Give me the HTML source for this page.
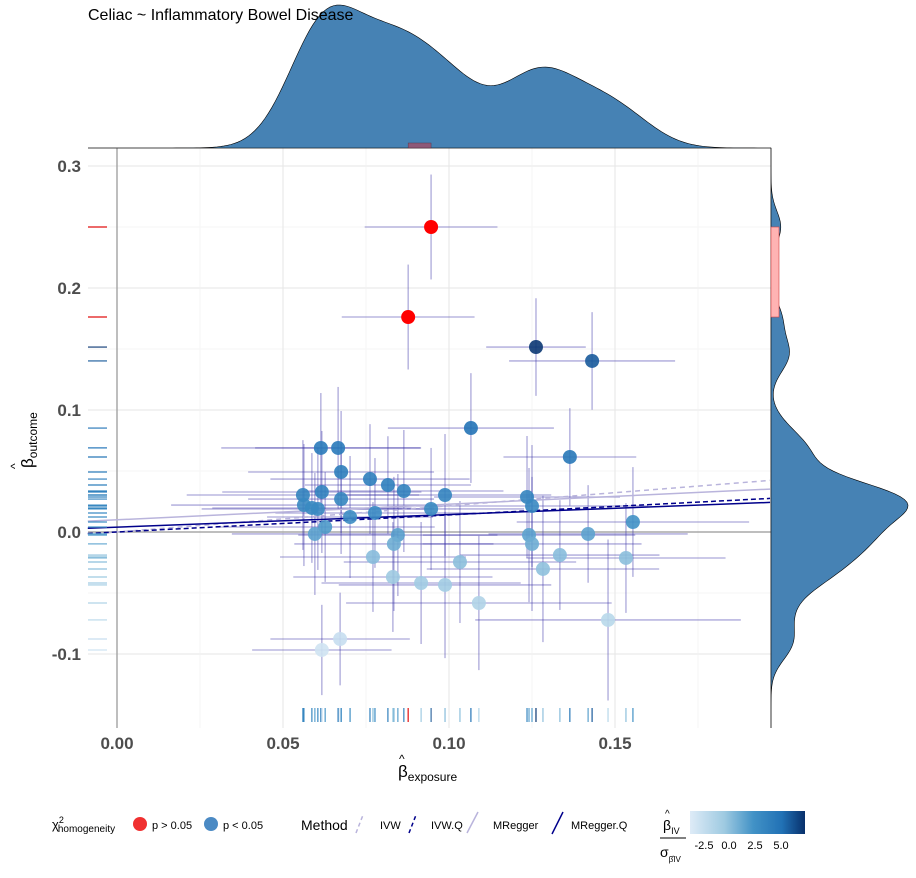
<!DOCTYPE html>
<html><head><meta charset="utf-8"><style>
body{margin:0;background:#fff;font-family:"Liberation Sans",sans-serif}
svg text{font-family:"Liberation Sans",sans-serif}
</style></head><body>
<svg id="c" width="916" height="873" xmlns="http://www.w3.org/2000/svg">
<g id="grid"></g><g id="dens"></g><g id="bars"></g><g id="lines"></g><g id="pts"></g><g id="rug"></g><g id="axes"></g>
<text x="88" y="20" font-size="16" fill="#000">Celiac ~ Inflammatory Bowel Disease</text>
<g id="legend">
 <text x="52" y="829" font-size="13">χ<tspan dy="-6" font-size="9">2</tspan><tspan dy="9" dx="-6" font-size="10">homogeneity</tspan></text>
 <circle cx="140" cy="824" r="7" fill="#f03030"/>
 <text x="152" y="829" font-size="11">p &gt; 0.05</text>
 <circle cx="211" cy="824" r="7" fill="#4b8ac4"/>
 <text x="223" y="829" font-size="11">p &lt; 0.05</text>
 <text x="301" y="830" font-size="14">Method</text>
 <line x1="356" y1="833" x2="363" y2="815" stroke="#b9b4dc" stroke-width="1.5" stroke-dasharray="4,3"/>
 <text x="380" y="829" font-size="11">IVW</text>
 <line x1="409" y1="833" x2="416" y2="815" stroke="#00008b" stroke-width="1.5" stroke-dasharray="4,3"/>
 <text x="431" y="829" font-size="11">IVW.Q</text>
 <line x1="467" y1="833" x2="478" y2="812" stroke="#b9b4dc" stroke-width="1.5"/>
 <text x="493" y="829" font-size="11">MRegger</text>
 <line x1="552" y1="834" x2="563" y2="812" stroke="#00008b" stroke-width="1.5"/>
 <text x="571" y="829" font-size="11">MRegger.Q</text>
 <text x="663" y="830" font-size="14">β<tspan dy="4" font-size="9">IV</tspan></text>
 <text x="665" y="817" font-size="10">^</text>
 <line x1="660" y1="838" x2="686" y2="838" stroke="#000" stroke-width="1"/>
 <text x="660" y="857" font-size="14">σ<tspan dy="5" font-size="8">β̂IV</tspan></text>
 <defs><linearGradient id="gb"><stop offset="0" stop-color="#deebf7"/><stop offset="0.3" stop-color="#9ecae1"/><stop offset="0.55" stop-color="#4292c6"/><stop offset="0.8" stop-color="#2171b5"/><stop offset="1" stop-color="#08306b"/></linearGradient></defs>
 <rect x="690" y="811" width="115" height="23" fill="url(#gb)"/>
 <text x="704" y="849" font-size="11" text-anchor="middle">-2.5</text>
 <text x="729" y="849" font-size="11" text-anchor="middle">0.0</text>
 <text x="755" y="849" font-size="11" text-anchor="middle">2.5</text>
 <text x="781" y="849" font-size="11" text-anchor="middle">5.0</text>
</g>
</svg>
<script>
const bx=[0.0946,0.0877,0.1262,0.1431,0.1066,0.1364,0.0614,0.0666,0.0675,0.0762,0.0816,0.0864,0.0988,0.0560,0.0617,0.0675,0.0563,0.0587,0.0605,0.0702,0.0777,0.0946,0.1235,0.1250,0.0627,0.0596,0.0846,0.0834,0.0771,0.1033,0.0831,0.0916,0.0988,0.1090,0.1241,0.1250,0.1283,0.1334,0.1419,0.1554,0.1533,0.1479,0.0672,0.0617];
const by=[0.250,0.1762,0.1516,0.1402,0.0852,0.0615,0.0689,0.0689,0.0492,0.0434,0.0385,0.0336,0.0303,0.0303,0.0328,0.0270,0.0221,0.0197,0.0189,0.0123,0.0156,0.0189,0.0287,0.0213,0.0041,-0.0016,-0.0025,-0.0098,-0.0205,-0.0246,-0.0369,-0.0418,-0.0434,-0.0582,-0.0025,-0.0098,-0.0303,-0.0189,-0.0016,0.0082,-0.0213,-0.0721,-0.0877,-0.0967];
const seX=[0.020,0.020,0.015,0.025,0.025,0.020,0.030,0.025,0.028,0.030,0.025,0.030,0.032,0.035,0.030,0.028,0.040,0.030,0.035,0.025,0.030,0.028,0.028,0.035,0.033,0.025,0.030,0.030,0.028,0.035,0.030,0.030,0.032,0.040,0.032,0.033,0.035,0.030,0.030,0.035,0.030,0.040,0.021,0.021];
const seY=[0.043,0.043,0.040,0.040,0.045,0.040,0.045,0.050,0.050,0.045,0.040,0.050,0.050,0.045,0.050,0.045,0.050,0.045,0.050,0.050,0.045,0.050,0.050,0.050,0.045,0.050,0.050,0.055,0.045,0.050,0.045,0.050,0.060,0.055,0.055,0.055,0.060,0.045,0.040,0.045,0.045,0.066,0.038,0.037];
const zv=[2.5,2.0,7.0,5.5,4.3,3.9,3.7,3.7,3.4,3.3,3.2,3.0,2.8,2.9,3.0,2.7,2.4,2.3,2.2,2.0,2.1,2.3,2.7,2.4,1.2,0.8,0.9,0.3,-0.4,-0.5,-1.0,-1.2,-1.2,-1.8,0.8,0.3,-0.6,-0.4,0.8,1.6,-0.5,-2.2,-2.8,-3.2];
const het=[1,1,0,0,0,0,0,0,0,0,0,0,0,0,0,0,0,0,0,0,0,0,0,0,0,0,0,0,0,0,0,0,0,0,0,0,0,0,0,0,0,0,0,0];
const methods=["IVW","IVW.Q","MRegger","MRegger.Q"];
const intercepts=[0,0,0.010,0.004];
const slopes=[0.215,0.14,0.128,0.103];
const xTicks=[0,0.05,0.10,0.15];
const xTickLabels=["0.00","0.05","0.10","0.15"];
const yTicks=[-0.1,0,0.1,0.2,0.3];
const yTickLabels=["-0.1","0.0","0.1","0.2","0.3"];

const L=88,R=771,T=148,B=728;
const X=v=>117+v*3320, Y=v=>532-v*1220;
const NS="http://www.w3.org/2000/svg";
function mk(p,tag,a){const e=document.createElementNS(NS,tag);for(const k in a)e.setAttribute(k,a[k]);document.getElementById(p).appendChild(e);return e;}
const stops=[[-3.9,[222,235,247]],[-1,[158,202,225]],[1.5,[66,146,198]],[4.5,[33,113,181]],[7.3,[8,48,107]]];
function col(z){z=Math.max(-3.9,Math.min(7.3,z));for(let i=0;i<stops.length-1;i++){const[a,ca]=stops[i],[b,cb]=stops[i+1];if(z<=b){const t=(z-a)/(b-a);return"rgb("+ca.map((c,j)=>Math.round(c+(cb[j]-c)*t)).join(",")+")";}}}
for(let v=-0.1;v<=0.31;v+=0.05){const g=mk("grid","line",{x1:L,x2:R,y1:Y(v),y2:Y(v),stroke:Math.abs(Math.round(v*20))%2?"#f3f3f3":"#e6e6e6","stroke-width":Math.abs(Math.round(v*20))%2?0.7:1});}
for(let v=0;v<=0.19;v+=0.025){const g=mk("grid","line",{x1:X(v),x2:X(v),y1:T,y2:B,stroke:Math.round(v*40)%2?"#f3f3f3":"#e6e6e6","stroke-width":Math.round(v*40)%2?0.7:1});}
let zl=mk("grid","line",{x1:L,x2:R,y1:Y(0),y2:Y(0),stroke:"#a8a8a8","stroke-width":1.5});
let va=mk("grid","line",{x1:X(0),x2:X(0),y1:T,y2:B,stroke:"#a8a8a8","stroke-width":1.5});
mk("grid","line",{x1:L,x2:R,y1:T,y2:T,stroke:"#888","stroke-width":1});
mk("grid","line",{x1:R,x2:R,y1:T,y2:B,stroke:"#888","stroke-width":1});
function kde(arr,bw,a,b,n){const o=[];for(let i=0;i<=n;i++){const t=a+(b-a)*i/n;let s=0;for(const v of arr)s+=Math.exp(-0.5*((t-v)/bw)**2);o.push([t,s]);}return o;}
let dx=kde(bx,0.0098,-0.01,0.196,200);let mx=Math.max(...dx.map(d=>d[1]));
let p="M"+L+","+T;dx.forEach(d=>{p+=" L"+Math.max(L,Math.min(R,X(d[0])))+","+(T-d[1]/mx*143);});p+=" L"+R+","+T+"Z";
let td=mk("dens","path",{d:p,fill:"#4682b4",stroke:"#000","stroke-width":0.6});
let dy=kde(by,0.013,-0.15,0.315,200);let my=Math.max(...dy.map(d=>d[1]));
p="M"+R+","+B;dy.forEach(d=>{p+=" L"+(R+d[1]/my*137)+","+Math.max(T,Math.min(B,Y(d[0])));});p+=" L"+R+","+T+"Z";
let rd=mk("dens","path",{d:p,fill:"#4682b4",stroke:"#000","stroke-width":0.6});
const rx=bx.filter((v,i)=>het[i]),ry=by.filter((v,i)=>het[i]);
let tb=mk("dens","rect",{x:X(Math.min(...rx)),y:T-5,width:X(Math.max(...rx))-X(Math.min(...rx)),height:5,fill:"#a0506a",stroke:"#5a2a3a","stroke-width":0.5,opacity:0.8});
let rb=mk("dens","rect",{x:R,y:Y(Math.max(...ry)),width:8,height:Y(Math.min(...ry))-Y(Math.max(...ry)),fill:"#ffb3b3",stroke:"#d04040","stroke-width":0.6});
bx.forEach((v,i)=>{
 let h=mk("bars","line",{x1:Math.max(L,X(v-seX[i])),x2:Math.min(R,X(v+seX[i])),y1:Y(by[i]),y2:Y(by[i]),stroke:"#3a32a8","stroke-opacity":0.42,"stroke-width":1.3});
 
 let w=mk("bars","line",{x1:X(v),x2:X(v),y1:Math.max(T,Y(by[i]+seY[i])),y2:Math.min(B,Y(by[i]-seY[i])),stroke:"#3a32a8","stroke-opacity":0.42,"stroke-width":1.3});
 
});
const lcol=["#b9b4dc","#00008b","#b9b4dc","#00008b"],ldash=["5,4","5,3","",""];
methods.forEach((m,i)=>{const x0=-0.0088,x1=0.1967;
 let l=mk("lines","line",{x1:X(x0),x2:X(x1),y1:Y(intercepts[i]+slopes[i]*x0),y2:Y(intercepts[i]+slopes[i]*x1),stroke:lcol[i],"stroke-width":1.5,"stroke-dasharray":ldash[i]});
 });
bx.forEach((v,i)=>{const c=het[i]?"#ff0000":col(zv[i]);
 let pt=mk("pts","circle",{cx:X(v),cy:Y(by[i]),r:7,fill:c,"fill-opacity":het[i]?1:0.9});
 
 let r1=mk("rug","line",{x1:X(v),x2:X(v),y1:708,y2:722,stroke:het[i]?"#e01010":c,"stroke-width":1.2});
 
 let r2=mk("rug","line",{x1:88,x2:107,y1:Y(by[i]),y2:Y(by[i]),stroke:het[i]?"#e01010":c,"stroke-width":1.2});
 });
xTicks.forEach((v,i)=>{let t=mk("axes","text",{x:X(v),y:749,"text-anchor":"middle","font-size":17,"font-weight":"bold",fill:"#4d4d4d"});t.textContent=xTickLabels[i];});
yTicks.forEach((v,i)=>{let t=mk("axes","text",{x:81,y:Y(v)+6,"text-anchor":"end","font-size":17,"font-weight":"bold",fill:"#4d4d4d"});t.textContent=yTickLabels[i];});
let xt=mk("axes","text",{x:398,y:777,"font-size":17});xt.innerHTML='β<tspan dy="4" font-size="12">exposure</tspan>';

let xh=mk("axes","text",{x:399,y:763,"font-size":12});xh.textContent="^";
let yt=mk("axes","text",{x:0,y:0,"font-size":17,transform:"translate(33,468) rotate(-90)"});yt.innerHTML='β<tspan dy="4" font-size="12">outcome</tspan>';

let yh=mk("axes","text",{x:0,y:0,"font-size":12,transform:"translate(19,469) rotate(-90)"});yh.textContent="^";
</script>
</body></html>
